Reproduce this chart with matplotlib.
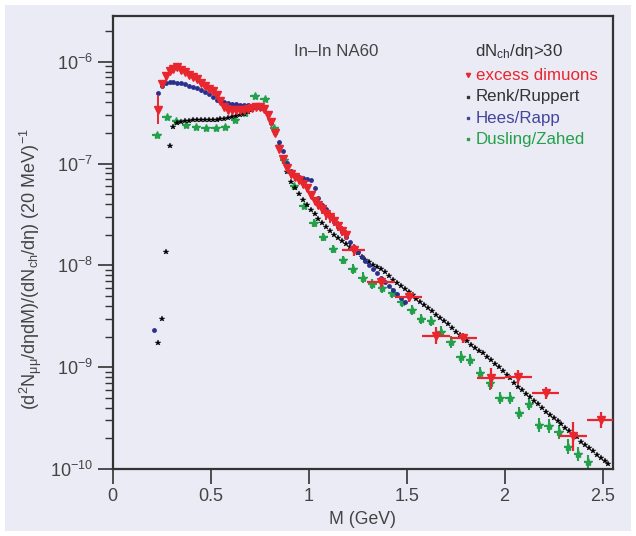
import numpy as np
import matplotlib
matplotlib.use('Agg')
import matplotlib.pyplot as plt
from matplotlib import font_manager
from matplotlib.patches import Rectangle
from matplotlib.ticker import LogLocator, NullLocator

names = {f.name for f in font_manager.fontManager.ttflist}
NARROW = 'Liberation Sans Narrow' in names
FONT = 'Liberation Sans Narrow' if NARROW else 'Liberation Sans'
TXT = 13 if NARROW else 12.2

plt.rcParams['font.family'] = [FONT, 'DejaVu Sans']
plt.rcParams['mathtext.fontset'] = 'custom'
plt.rcParams['mathtext.rm'] = FONT
plt.rcParams['mathtext.it'] = FONT
plt.rcParams['mathtext.default'] = 'regular'

BG = '#ebebf5'
RED = '#e8262e'
BLUE = '#2a2f8e'
GREEN = '#23a04a'
DARK = '#333333'

x_ticks = [0, 0.5, 1, 1.5, 2, 2.5]
x_labels = ['0', '0.5', '1', '1.5', '2', '2.5']
y_ticks = [1e-10, 1e-9, 1e-8, 1e-7, 1e-6]
y_labels = [r'$10^{-10}$', r'$10^{-9}$', r'$10^{-8}$', r'$10^{-7}$', r'$10^{-6}$']

# Renk/Ruppert (black stars), log10 of yield
renk_m = [0.23, 0.25, 0.27, 0.29, 0.31, 0.33, 0.35, 0.37, 0.39, 0.41,
          0.43, 0.45, 0.47, 0.49, 0.51, 0.53, 0.55, 0.57, 0.59, 0.61,
          0.63, 0.65, 0.67, 0.69, 0.71, 0.73, 0.75, 0.77, 0.79, 0.81,
          0.83, 0.85, 0.87, 0.89, 0.91, 0.93, 0.95, 0.97, 0.99, 1.01,
          1.03, 1.05, 1.07, 1.09, 1.11, 1.13, 1.15, 1.17, 1.19, 1.21,
          1.23, 1.25, 1.27, 1.29, 1.31, 1.33, 1.35, 1.37, 1.39, 1.41,
          1.43, 1.45, 1.47, 1.49, 1.51, 1.53, 1.55, 1.57, 1.59, 1.61,
          1.63, 1.65, 1.67, 1.69, 1.71, 1.73, 1.75, 1.77, 1.79, 1.81,
          1.83, 1.85, 1.87, 1.89, 1.91, 1.93, 1.95, 1.97, 1.99, 2.01,
          2.03, 2.05, 2.07, 2.09, 2.11, 2.13, 2.15, 2.17, 2.19, 2.21,
          2.23, 2.25, 2.27, 2.29, 2.31, 2.33, 2.35, 2.37, 2.39, 2.41,
          2.43, 2.45, 2.47, 2.49, 2.51, 2.53]
renk_log = [-8.76, -8.53, -7.87, -6.83, -6.64, -6.60, -6.59, -6.585, -6.58, -6.575,
            -6.572, -6.572, -6.572, -6.572, -6.570, -6.568, -6.565, -6.56, -6.555, -6.545,
            -6.53, -6.52, -6.51, -6.49, -6.47, -6.455, -6.447, -6.46, -6.51, -6.58,
            -6.70, -6.83, -6.95, -7.08, -7.18, -7.24, -7.30, -7.36, -7.41, -7.46,
            -7.50, -7.54, -7.58, -7.62, -7.66, -7.70, -7.73, -7.76, -7.79, -7.82,
            -7.85, -7.88, -7.92, -7.945, -7.97, -8.00, -8.02, -8.04, -8.07, -8.10,
            -8.14, -8.17, -8.20, -8.23, -8.26, -8.29, -8.33, -8.36, -8.39, -8.42,
            -8.45, -8.49, -8.52, -8.55, -8.58, -8.62, -8.65, -8.68, -8.71, -8.745,
            -8.78, -8.81, -8.84, -8.86, -8.90, -8.93, -8.97, -9.00, -9.04, -9.08,
            -9.11, -9.16, -9.19, -9.22, -9.26, -9.29, -9.33, -9.36, -9.40, -9.44,
            -9.47, -9.50, -9.53, -9.56, -9.60, -9.63, -9.66, -9.69, -9.73, -9.76,
            -9.79, -9.82, -9.86, -9.89, -9.92, -9.95]

# Hees/Rapp (blue dots)
hees_m = [0.21, 0.23, 0.25, 0.27, 0.29, 0.31, 0.33, 0.35, 0.37, 0.39,
          0.41, 0.43, 0.45, 0.47, 0.49, 0.51, 0.53, 0.55, 0.57, 0.59,
          0.61, 0.63, 0.65, 0.67, 0.69, 0.71, 0.73, 0.75, 0.77, 0.79,
          0.81, 0.83, 0.85, 0.87, 0.89, 0.91, 0.93, 0.95, 0.97, 0.99,
          1.01, 1.03, 1.05, 1.07, 1.09, 1.11, 1.13, 1.15, 1.17, 1.19,
          1.21, 1.23, 1.25, 1.27, 1.29, 1.31, 1.33, 1.35, 1.37, 1.39,
          1.41, 1.43, 1.45, 1.47, 1.49]
hees_log = [-8.635, -6.31, -6.24, -6.21, -6.20, -6.20, -6.205, -6.21, -6.22, -6.235,
            -6.25, -6.26, -6.28, -6.30, -6.32, -6.35, -6.375, -6.39, -6.40, -6.41,
            -6.415, -6.42, -6.425, -6.43, -6.43, -6.435, -6.44, -6.45, -6.46, -6.50,
            -6.60, -6.70, -6.79, -6.88, -6.99, -7.07, -7.11, -7.13, -7.14, -7.15,
            -7.16, -7.24, -7.34, -7.41, -7.45, -7.51, -7.57, -7.62, -7.67, -7.72,
            -7.77, -7.82, -7.87, -7.92, -7.96, -8.00, -8.04, -8.08, -8.12, -8.16,
            -8.20, -8.24, -8.28, -8.32, -8.36]

# Dusling/Zahed (green stars with error bars)
dz_m = [0.225, 0.275, 0.325, 0.375, 0.425, 0.475, 0.525, 0.575, 0.625, 0.675,
        0.725, 0.775, 0.825, 0.875, 0.925, 0.975, 1.025, 1.075, 1.125, 1.175,
        1.225, 1.275, 1.325, 1.375, 1.425, 1.475, 1.525, 1.575, 1.625, 1.675,
        1.725, 1.775, 1.825, 1.875, 1.925, 1.975, 2.025, 2.075, 2.125, 2.175,
        2.225, 2.275, 2.325, 2.375, 2.425]
dz_log = [-6.72, -6.545, -6.58, -6.62, -6.645, -6.655, -6.655, -6.64, -6.575, -6.50,
          -6.335, -6.37, -6.655, -6.97, -7.22, -7.42, -7.58, -7.72, -7.84, -7.95,
          -8.035, -8.12, -8.18, -8.225, -8.275, -8.36, -8.44, -8.53, -8.545, -8.65,
          -8.75, -8.90, -8.93, -9.06, -9.16, -9.305, -9.305, -9.45, -9.36, -9.57,
          -9.58, -9.635, -9.78, -9.855, -9.93]
dz_dex = [0.02, 0.02, 0.02, 0.02, 0.02, 0.02, 0.02, 0.02, 0.02, 0.02,
          0.02, 0.02, 0.02, 0.03, 0.03, 0.03, 0.04, 0.04, 0.04, 0.04,
          0.05, 0.05, 0.05, 0.05, 0.05, 0.05, 0.05, 0.05, 0.05, 0.05,
          0.06, 0.06, 0.06, 0.06, 0.06, 0.06, 0.06, 0.06, 0.06, 0.07,
          0.07, 0.07, 0.07, 0.07, 0.07]

# excess dimuons (red triangles), 20 MeV bins
ex_m = [0.23, 0.25, 0.27, 0.29, 0.31, 0.33, 0.35, 0.37, 0.39, 0.41,
        0.43, 0.45, 0.47, 0.49, 0.51, 0.53, 0.55, 0.57, 0.59, 0.61,
        0.63, 0.65, 0.67, 0.69, 0.71, 0.73, 0.75, 0.77, 0.79, 0.81,
        0.83, 0.85, 0.87, 0.89, 0.91, 0.93, 0.95, 0.97, 0.99, 1.01,
        1.03, 1.05, 1.07, 1.09, 1.11, 1.13, 1.15, 1.17, 1.19]
ex_log = [-6.47, -6.22, -6.14, -6.09, -6.07, -6.05, -6.08, -6.10, -6.13, -6.15,
          -6.17, -6.21, -6.24, -6.27, -6.29, -6.33, -6.39, -6.44, -6.47, -6.475,
          -6.47, -6.475, -6.47, -6.465, -6.45, -6.445, -6.445, -6.46, -6.52, -6.59,
          -6.70, -6.86, -6.96, -7.04, -7.10, -7.13, -7.16, -7.20, -7.24, -7.31,
          -7.37, -7.41, -7.45, -7.50, -7.53, -7.56, -7.61, -7.66, -7.70]
ex_dex = [0.14, 0.04, 0.04, 0.04, 0.04, 0.04, 0.04, 0.03, 0.03, 0.03,
          0.03, 0.03, 0.03, 0.03, 0.03, 0.03, 0.03, 0.03, 0.03, 0.03,
          0.03, 0.03, 0.03, 0.03, 0.03, 0.03, 0.03, 0.03, 0.03, 0.03,
          0.03, 0.04, 0.04, 0.04, 0.04, 0.04, 0.04, 0.04, 0.04, 0.04,
          0.04, 0.04, 0.05, 0.05, 0.05, 0.05, 0.05, 0.05, 0.05]

# excess dimuons, wide bins at high mass
exh_m = [1.23, 1.37, 1.51, 1.65, 1.79, 1.93, 2.07, 2.21, 2.35, 2.49]
exh_log = [-7.85, -8.16, -8.31, -8.69, -8.71, -9.11, -9.10, -9.25, -9.68, -9.52]
exh_xerr = [0.06, 0.07, 0.07, 0.07, 0.07, 0.07, 0.07, 0.07, 0.07, 0.07]
exh_dex = [0.06, 0.05, 0.05, 0.08, 0.05, 0.10, 0.07, 0.06, 0.14, 0.08]


def to_vals(logs, dex=None):
    logs = np.array(logs)
    y = 10.0 ** logs
    if dex is None:
        return y
    dex = np.array(dex)
    return y, [y - 10.0 ** (logs - dex), 10.0 ** (logs + dex) - y]


fig = plt.figure(figsize=(6.36, 5.36), dpi=100)
fig.patch.set_facecolor('white')
fig.patches.append(Rectangle((0.008, 0.009), 0.984, 0.982, transform=fig.transFigure,
                             facecolor=BG, edgecolor='none', zorder=-10))

ax = fig.add_axes([0.1772, 0.125, 0.7866, 0.8457])
ax.set_facecolor(BG)

y, err = to_vals(dz_log, dz_dex)
ax.errorbar(dz_m, y, xerr=0.022, yerr=err, fmt='*', color=GREEN, ms=6,
            elinewidth=1.5, capsize=0, zorder=2)

ax.plot(renk_m, to_vals(renk_log), '*', color='black', ms=4, mew=0.3, zorder=3)

ax.plot(hees_m, to_vals(hees_log), 'o', color=BLUE, ms=3.5, mew=0, zorder=4)

y, err = to_vals(ex_log, ex_dex)
ax.errorbar(ex_m, y, xerr=0.01, yerr=err, fmt='v', color=RED, ms=5.5,
            elinewidth=1.4, capsize=0, zorder=5)
y, err = to_vals(exh_log, exh_dex)
ax.errorbar(exh_m, y, xerr=exh_xerr, yerr=err, fmt='v', color=RED, ms=5.5,
            elinewidth=1.6, capsize=0, zorder=5)

ax.set_yscale('log')
ax.set_xlim(0, 2.553)
ax.set_ylim(1e-10, 2.83e-6)
ax.set_xticks(x_ticks)
ax.set_xticklabels(x_labels)
ax.set_yticks(y_ticks)
ax.set_yticklabels(y_labels)
ax.xaxis.set_minor_locator(NullLocator())
ax.yaxis.set_minor_locator(LogLocator(base=10, subs=np.arange(2, 10), numticks=20))

for s in ax.spines.values():
    s.set_color(DARK)
    s.set_linewidth(1.6)
ax.tick_params(which='major', direction='out', length=11, width=1.2, color=DARK,
               labelsize=13, labelcolor='#444444', pad=3)
ax.tick_params(which='minor', direction='out', length=5.5, width=1.0, color=DARK)

ax.set_xlabel('M (GeV)', fontsize=TXT + 0.5, color='#444444', labelpad=4)
ax.set_ylabel(r'(d$^{2}$N$_{\mathrm{μμ}}$/dηdM)/(dN$_{\mathrm{ch}}$/dη) (20 MeV)$^{-1}$',
              fontsize=13, color='#444444')
ax.yaxis.set_label_coords(-0.137, 0.44)

# annotations and legend
ax.text(0.362, 0.922, 'In–In NA60', transform=ax.transAxes, fontsize=TXT,
        color='#444444', va='center')
ax.text(0.724, 0.922, r'dN$_{\mathrm{ch}}$/dη>30', transform=ax.transAxes, fontsize=TXT,
        color='#333333', va='center')

leg_labels = ['excess dimuons', 'Renk/Ruppert', 'Hees/Rapp', 'Dusling/Zahed']
leg_colors = [RED, '#333333', '#44449e', GREEN]
leg_markers = ['v', 's', 's', 's']
leg_y = [0.869, 0.821, 0.774, 0.728]
for lab, col, mk, yy in zip(leg_labels, leg_colors, leg_markers, leg_y):
    ax.plot([0.710], [yy], mk, color=col, ms=3 if mk == 'v' else 2,
            transform=ax.transAxes, clip_on=False)
    ax.text(0.726, yy, lab, transform=ax.transAxes, fontsize=TXT, color=col,
            va='center')

fig.savefig('out.png', dpi=100, facecolor=fig.get_facecolor())
